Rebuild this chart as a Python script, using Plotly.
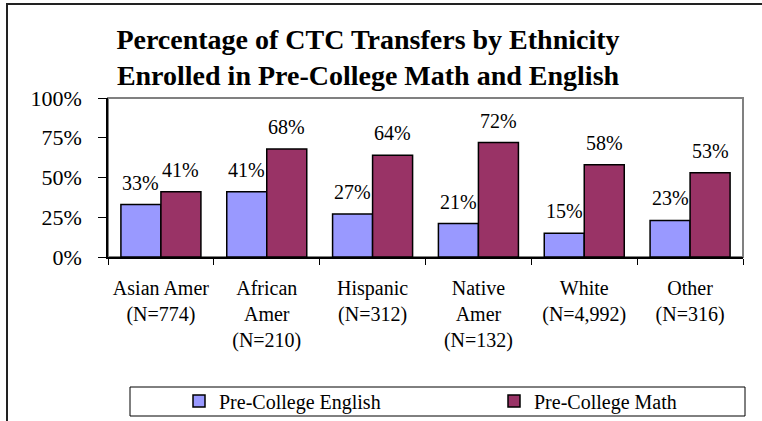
import plotly.graph_objects as go

# ---- data ----
categories = ["Asian Amer", "African<br>Amer", "Hispanic", "Native<br>Amer", "White", "Other"]
n_counts = ["774", "210", "312", "132", "4,992", "316"]
english = [0.33, 0.41, 0.27, 0.21, 0.15, 0.23]
math = [0.41, 0.68, 0.64, 0.72, 0.58, 0.53]
series_names = ["Pre-College English", "Pre-College Math"]
y_ticks = [0, 0.25, 0.5, 0.75, 1.0]
y_tick_labels = ["0%", "25%", "50%", "75%", "100%"]
title_text = "Percentage of CTC Transfers by Ethnicity<br>Enrolled in Pre-College Math and English"

tick_text = [f"{c}<br>(N={n})" for c, n in zip(categories, n_counts)]

FONT = "Times New Roman, Liberation Serif, serif"
W, H = 762, 421
L, R, T, B = 108, 19, 98, 164
PW, PH = W - L - R, H - T - B


def px_x(p):
    return (p - L) / PW


def px_y(p):
    return 1 - (p - T) / PH


fig = go.Figure()
fig.add_trace(go.Bar(x=tick_text, y=english, name=series_names[0], legend="legend",
                     marker=dict(color="#9999FF", line=dict(color="black", width=1.5))))
fig.add_trace(go.Bar(x=tick_text, y=math, name=series_names[1], legend="legend2",
                     marker=dict(color="#993366", line=dict(color="black", width=1.5))))

annotations = []
for vals, shift in ((english, -20), (math, 20)):
    for cat, v in zip(tick_text, vals):
        annotations.append(dict(x=cat, y=v, xref="x", yref="y", text=f"{round(v*100)}%",
                                showarrow=False, xshift=shift, yshift=22, yanchor="middle",
                                font=dict(family=FONT, size=20, color="black")))

shapes = [
    # outer chart frame (extends beyond the canvas on right/bottom)
    dict(type="rect", xref="paper", yref="paper", x0=px_x(7), x1=px_x(780),
         y0=px_y(440), y1=px_y(4), line=dict(color="#222222", width=2), layer="below"),
    # plot area border (gray)
    dict(type="rect", xref="paper", yref="paper", x0=0, x1=1, y0=0, y1=1,
         line=dict(color="#808080", width=2), layer="below"),
    # legend frame
    dict(type="rect", xref="paper", yref="paper", x0=px_x(130), x1=px_x(745),
         y0=px_y(416), y1=px_y(387), line=dict(color="black", width=1)),
]

legend_common = dict(orientation="h", xanchor="left", yanchor="middle", y=px_y(401),
                     xref="paper", yref="paper",
                     font=dict(family=FONT, size=20, color="black"),
                     bgcolor="rgba(0,0,0,0)", borderwidth=0)

fig.update_layout(
    template="none",
    width=W, height=H,
    margin=dict(l=L, r=R, t=T, b=B, autoexpand=False),
    paper_bgcolor="white", plot_bgcolor="white",
    font=dict(family=FONT, color="black"),
    title=dict(text=title_text, x=368 / W, xanchor="center", xref="container",
               y=1 - 49 / H, yanchor="top", yref="container",
               font=dict(family=FONT, size=28, color="black", weight="bold")),
    barmode="group", bargap=0.244, bargroupgap=0,
    showlegend=True,
    legend=dict(x=px_x(179), **legend_common),
    legend2=dict(x=px_x(494), **legend_common),
    xaxis=dict(showline=True, linecolor="black", linewidth=1.5, ticks="outside", tickson="boundaries",
               ticklen=6, tickcolor="black", tickangle=0, showgrid=False, zeroline=False,
               tickfont=dict(family=FONT, size=20, color="black"), automargin=False,
               ticklabelstandoff=12),
    yaxis=dict(range=[0, 1], tickvals=y_ticks, ticktext=y_tick_labels, showline=True,
               linecolor="black", linewidth=1.5, ticks="outside", ticklen=8, tickcolor="black",
               showgrid=False, zeroline=False, tickfont=dict(family=FONT, size=22, color="black"),
               automargin=False, ticklabelstandoff=12),
    annotations=annotations,
    shapes=shapes,
)

fig.write_html("out.html", config={"displayModeBar": False},
               post_script="document.body.style.margin='0';document.body.style.overflow='hidden';")
